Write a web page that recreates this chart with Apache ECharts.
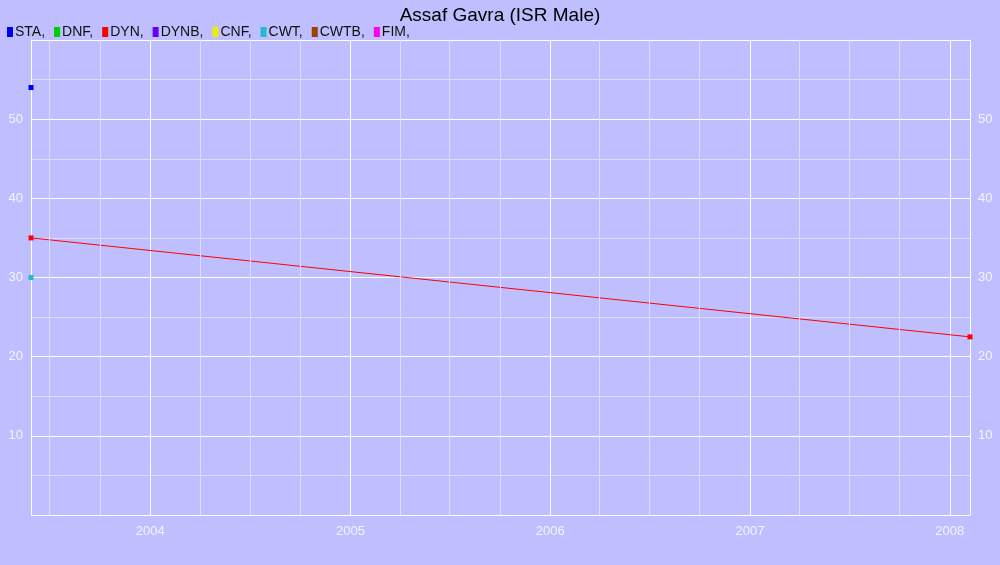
<!DOCTYPE html>
<html><head><meta charset="utf-8">
<script src="https://cdn.jsdelivr.net/npm/echarts@6/dist/echarts.min.js"></script>
<style>html,body{margin:0;padding:0;background:#bfbfff}#c{width:1000px;height:565px}</style>
</head><body><div id="c"></div>
<script>
const seriesNames = ['STA','DNF','DYN','DYNB','CNF','CWT','CWTB','FIM'];
const seriesColors = ['#0000ee','#00cc00','#ff0000','#6600ff','#eeee00','#22bbcc','#994400','#ff00ee'];
const staData = [['2003-05-28', 54]];
const dynData = [['2003-05-28', 35], ['2008-02-07', 22.5]];
const cwtData = [['2003-05-28', 30]];
const dataByName = {STA: staData, DYN: dynData, CWT: cwtData};
const yTicks = [10,20,30,40,50];
const quarterLines = ['2003-07-01','2003-10-01','2004-04-01','2004-07-01','2004-10-01','2005-04-01','2005-07-01','2005-10-01',
  '2006-04-01','2006-07-01','2006-10-01','2007-04-01','2007-07-01','2007-10-01'];

const chart = echarts.init(document.getElementById('c'));
const yr = 365.25*86400000;
const axisLab = {color:'#f4f4ff', fontSize:13, fontFamily:'Liberation Sans'};
const series = seriesNames.map((n,i)=>({
  name:n, type:'line', data:dataByName[n]||[], color:seriesColors[i], z:3,
  symbol:'rect', symbolSize:5, lineStyle:{width:1}, itemStyle:{color:seriesColors[i]}
}));
series.push({type:'line', data:[], z:1, silent:true,
  markLine:{symbol:'none', silent:true, label:{show:false}, lineStyle:{color:'#dcdcff', width:1, type:'solid'},
    data:quarterLines.map(d=>({xAxis:d}))}});
chart.setOption({
  backgroundColor:'#bfbfff',
  animation:false,
  textStyle:{fontFamily:'Liberation Sans'},
  title:{text:'Assaf Gavra (ISR Male)', left:'center', top:1, textStyle:{fontSize:19, fontWeight:'normal', color:'#000', fontFamily:'Liberation Sans'}},
  legend:{left:2, top:20, itemWidth:6, itemHeight:10, itemGap:9, icon:'rect',
    formatter:n=>n+',', textStyle:{fontSize:14, color:'#111', padding:[0,0,0,-3]},
    data:seriesNames},
  grid:{left:31, right:30, top:40, bottom:50},
  xAxis:{type:'time', min:'2003-05-28', max:'2008-02-07', minInterval:yr, maxInterval:yr,
    axisLabel:Object.assign({formatter:'{yyyy}', margin:10}, axisLab),
    axisLine:{show:false}, axisTick:{show:false},
    splitLine:{show:true, lineStyle:{color:'#ffffff', width:1}}},
  yAxis:[
    {type:'value', min:0, max:60, interval:10, axisLabel:Object.assign({formatter:v=>yTicks.includes(v)?v:''},axisLab),
     axisLine:{show:true, lineStyle:{color:'#fff'}}, axisTick:{show:false},
     splitLine:{lineStyle:{color:'#fff'}}, minorTick:{show:false, splitNumber:2},
     minorSplitLine:{show:true, lineStyle:{color:'#dcdcff'}}},
    {type:'value', min:0, max:60, interval:10, position:'right', axisLabel:Object.assign({formatter:v=>yTicks.includes(v)?v:''},axisLab),
     axisLine:{show:true, lineStyle:{color:'#fff'}}, axisTick:{show:false},
     splitLine:{show:false}}
  ],
  series
});
</script></body></html>
